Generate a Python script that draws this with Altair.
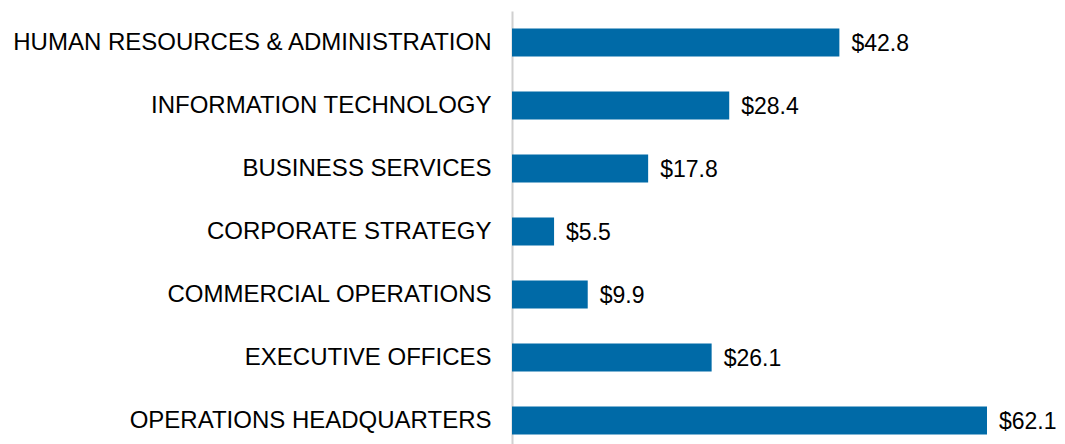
import altair as alt
import pandas as pd

categories = [
    "HUMAN RESOURCES & ADMINISTRATION",
    "INFORMATION TECHNOLOGY",
    "BUSINESS SERVICES",
    "CORPORATE STRATEGY",
    "COMMERCIAL OPERATIONS",
    "EXECUTIVE OFFICES",
    "OPERATIONS HEADQUARTERS",
]
values = [42.8, 28.4, 17.8, 5.5, 9.9, 26.1, 62.1]
labels = ["$42.8", "$28.4", "$17.8", "$5.5", "$9.9", "$26.1", "$62.1"]

df = pd.DataFrame({"cat": categories, "val": values, "lab": labels})

FONT = "Liberation Sans"

y = alt.Y(
    "cat:N",
    sort=categories,
    title=None,
    scale=alt.Scale(paddingInner=0.55, paddingOuter=0.275),
    axis=alt.Axis(
        ticks=False,
        labelFontSize=24,
        labelFont=FONT,
        labelColor="#000000",
        labelPadding=21,
        domainColor="#d0d0d0",
        domainWidth=2,
        labelLimit=700,
    ),
)
x = alt.X("val:Q", title=None, scale=alt.Scale(domain=[0, 62.1], nice=False), axis=None)

bars = alt.Chart(df).mark_bar(color="#006AA7", size=28).encode(x=x, y=y)
text = alt.Chart(df).mark_text(
    align="left", baseline="middle", dx=12, dy=1, fontSize=23, font=FONT, color="#000000"
).encode(x=x, y=y, text="lab:N")

chart = (
    alt.layer(bars, text)
    .properties(
        width=475,
        height=441,
        autosize=alt.AutoSizeParams(type="none"),
        padding={"left": 504, "top": 3, "right": 70, "bottom": 0},
    )
    .configure(background="white")
    .configure_view(stroke=None)
)

chart.save("out.html", embed_options={"renderer": "svg", "actions": False})
